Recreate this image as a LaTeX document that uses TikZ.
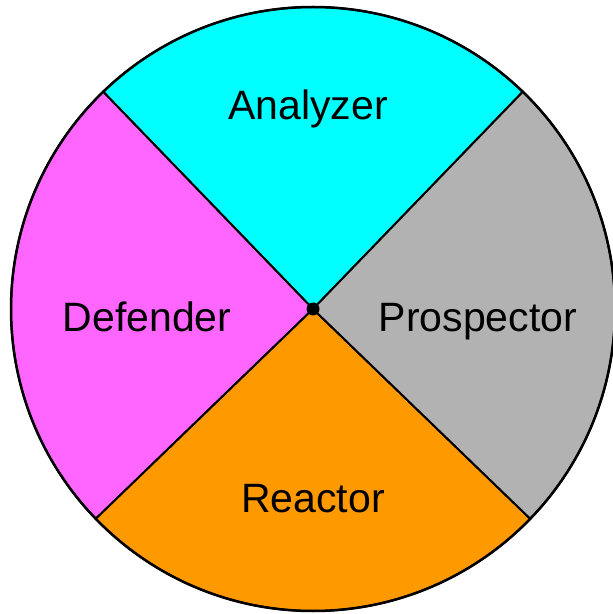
\documentclass[tikz,border=0pt]{standalone}
\usepackage{fontspec}
\setmainfont{Liberation Sans}
\usepackage{xcolor}
\definecolor{anacyan}{HTML}{00FFFF}
\definecolor{prosgray}{HTML}{B2B2B2}
\definecolor{reacorange}{HTML}{FF9900}
\definecolor{defmagenta}{HTML}{FF66FF}
\usetikzlibrary{calc}
\tikzset{
  wedge/.style={draw=black, line width=2pt, line join=round},
  rim/.style={draw=black, line width=2.5pt},
  lbl/.style={font=\fontsize{41}{41}\selectfont, anchor=base, inner sep=0pt},
}
\begin{document}
\begin{tikzpicture}[x=1pt, y=1pt]
  \useasboundingbox (0,0) rectangle (613,614);
  \clip (0,0) rectangle (613,614);
  \coordinate (c) at (313,305);
  \def\rad{302}
  % the four quarters
  \filldraw[wedge, fill=anacyan] (c) -- ++(46:\rad) arc[start angle=46, end angle=134, radius=\rad] -- cycle;
  \filldraw[wedge, fill=defmagenta] (c) -- ++(134:\rad) arc[start angle=134, end angle=224, radius=\rad] -- cycle;
  \filldraw[wedge, fill=reacorange] (c) -- ++(224:\rad) arc[start angle=224, end angle=316, radius=\rad] -- cycle;
  \filldraw[wedge, fill=prosgray] (c) -- ++(316:\rad) arc[start angle=316, end angle=406, radius=\rad] -- cycle;
  \draw[rim] (c) circle[radius=\rad];
  \fill[black] (c) circle[radius=6.5];
  % labels
  \node[lbl] (ana) at (308,494) {Analyzer};
  \node[lbl] (def) at (147,282) {Defender};
  \node[lbl] (pro) at (478,282) {Prospector};
  \node[lbl] (rea) at (313,101) {Reactor};
\end{tikzpicture}
\end{document}
